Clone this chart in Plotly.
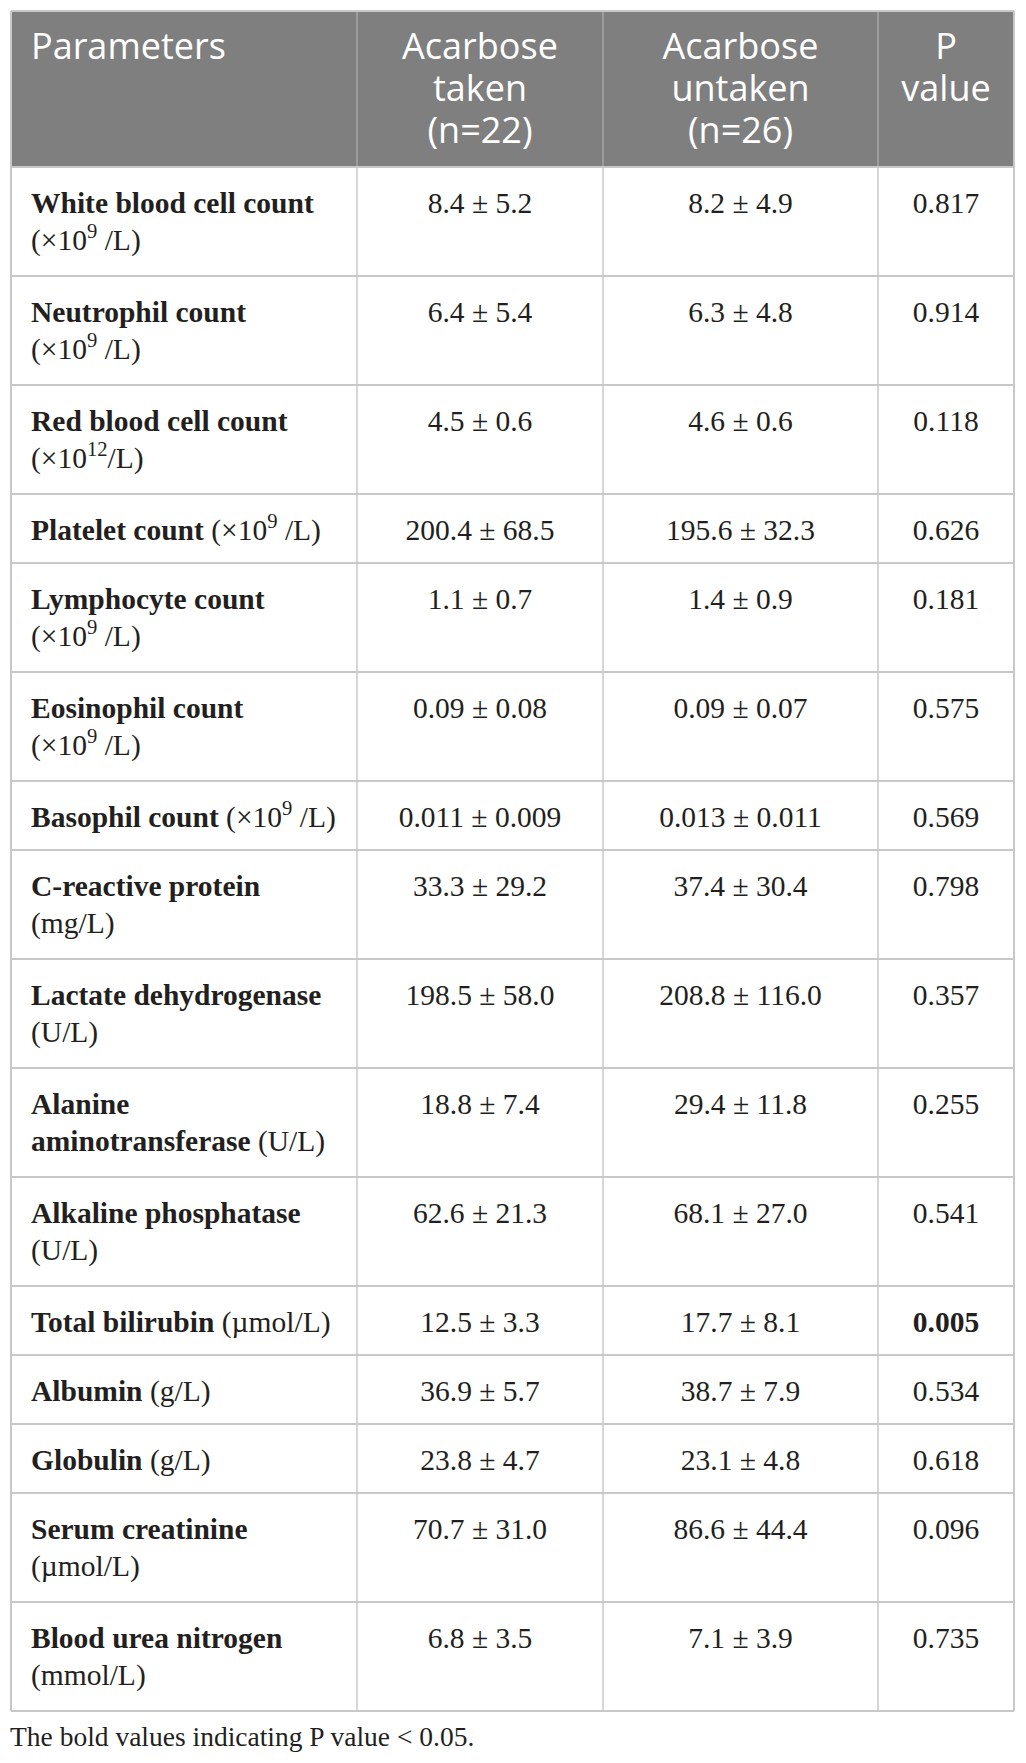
import plotly.graph_objects as go

# table content, one entry per row
parameters = [
    "<b>White blood cell count</b><br>(×10<sup>9</sup> /L)",
    "<b>Neutrophil count</b><br>(×10<sup>9</sup> /L)",
    "<b>Red blood cell count</b><br>(×10<sup>12</sup>/L)",
    "<b>Platelet count</b> (×10<sup>9</sup> /L)",
    "<b>Lymphocyte count</b><br>(×10<sup>9</sup> /L)",
    "<b>Eosinophil count</b><br>(×10<sup>9</sup> /L)",
    "<b>Basophil count</b> (×10<sup>9</sup> /L)",
    "<b>C-reactive protein</b><br>(mg/L)",
    "<b>Lactate dehydrogenase</b><br>(U/L)",
    "<b>Alanine</b><br><b>aminotransferase</b> (U/L)",
    "<b>Alkaline phosphatase</b><br>(U/L)",
    "<b>Total bilirubin</b> (µmol/L)",
    "<b>Albumin</b> (g/L)",
    "<b>Globulin</b> (g/L)",
    "<b>Serum creatinine</b><br>(µmol/L)",
    "<b>Blood urea nitrogen</b><br>(mmol/L)",
]
acarbose_taken = [
    "8.4 ± 5.2", "6.4 ± 5.4", "4.5 ± 0.6", "200.4 ± 68.5", "1.1 ± 0.7",
    "0.09 ± 0.08", "0.011 ± 0.009", "33.3 ± 29.2", "198.5 ± 58.0",
    "18.8 ± 7.4", "62.6 ± 21.3", "12.5 ± 3.3", "36.9 ± 5.7", "23.8 ± 4.7",
    "70.7 ± 31.0", "6.8 ± 3.5",
]
acarbose_untaken = [
    "8.2 ± 4.9", "6.3 ± 4.8", "4.6 ± 0.6", "195.6 ± 32.3", "1.4 ± 0.9",
    "0.09 ± 0.07", "0.013 ± 0.011", "37.4 ± 30.4", "208.8 ± 116.0",
    "29.4 ± 11.8", "68.1 ± 27.0", "17.7 ± 8.1", "38.7 ± 7.9", "23.1 ± 4.8",
    "86.6 ± 44.4", "7.1 ± 3.9",
]
p_values = [
    "0.817", "0.914", "0.118", "0.626", "0.181", "0.575", "0.569", "0.798",
    "0.357", "0.255", "0.541", "0.005", "0.534", "0.618", "0.096", "0.735",
]
headers = ["Parameters", "Acarbose<br>taken<br>(n=22)", "Acarbose<br>untaken<br>(n=26)", "P<br>value"]
footnote = "The bold values indicating P value < 0.05."

# page geometry (pixels)
W, H = 1026, 1763
col_edges = [11, 357, 603, 878, 1014]
table_top, header_h = 11, 156
row_h1, line_gap = 69, 40
first_base, line_step = 49, 37
body_fs, head_fs = 29.5, 36
head_bg, head_line, grid = "#7f7f7f", "#a6a6a6", "#c8c8c8"
ink = "#231f20"

p_cells = ["<b>%s</b>" % p if float(p) < 0.05 else p for p in p_values]

# row boundaries from the number of lines in each label
tops = []
y = table_top + header_h
for lab in parameters:
    tops.append(y)
    y += row_h1 + line_gap * lab.count("<br>")
table_bottom = y


def mid(base, fs):
    return base - 0.35 * fs


fig = go.Figure()

# header text
hx, hy, ht, hpos = [], [], [], []
for j, h in enumerate(headers):
    for k, line in enumerate(h.split("<br>")):
        if j == 0:
            hx.append(col_edges[0] + 20)
            hpos.append("middle right")
        else:
            hx.append((col_edges[j] + col_edges[j + 1]) / 2)
            hpos.append("middle center")
        hy.append(mid(table_top + 52 + k * 42, head_fs))
        ht.append(line)
fig.add_trace(go.Scatter(x=hx, y=hy, text=ht, mode="text", textposition=hpos,
                         textfont=dict(family="Open Sans", size=head_fs, color="white"),
                         hoverinfo="skip"))

# parameter column
px, py, pt = [], [], []
for top, lab in zip(tops, parameters):
    for k, line in enumerate(lab.split("<br>")):
        px.append(col_edges[0] + 20)
        py.append(mid(top + first_base + k * line_step, body_fs))
        pt.append(line)
fig.add_trace(go.Scatter(x=px, y=py, text=pt, mode="text", textposition="middle right",
                         textfont=dict(family="Liberation Serif", size=body_fs, color=ink),
                         hoverinfo="skip"))

# value columns
vx, vy, vt = [], [], []
for j, col in enumerate([acarbose_taken, acarbose_untaken, p_cells], start=1):
    cx = (col_edges[j] + col_edges[j + 1]) / 2
    for top, v in zip(tops, col):
        vx.append(cx)
        vy.append(mid(top + first_base, body_fs))
        vt.append(v)
fig.add_trace(go.Scatter(x=vx, y=vy, text=vt, mode="text", textposition="middle center",
                         textfont=dict(family="Liberation Serif", size=body_fs, color=ink),
                         hoverinfo="skip"))

# footnote
fig.add_trace(go.Scatter(x=[col_edges[0] - 1], y=[mid(table_bottom + 38, 27.5)], text=[footnote],
                         mode="text", textposition="middle right",
                         textfont=dict(family="Liberation Serif", size=27.5, color=ink),
                         hoverinfo="skip"))

# header band and grid
shapes = [dict(type="rect", x0=col_edges[0], x1=col_edges[-1], y0=table_top,
               y1=table_top + header_h, fillcolor=head_bg, line=dict(width=0), layer="below")]
for xe in col_edges[1:-1]:
    shapes.append(dict(type="line", x0=xe, x1=xe, y0=table_top, y1=table_top + header_h,
                       line=dict(color=head_line, width=1.5)))
    shapes.append(dict(type="line", x0=xe, x1=xe, y0=table_top + header_h, y1=table_bottom,
                       line=dict(color=grid, width=1.5)))
for ye in tops[1:] + [table_top + header_h, table_bottom]:
    shapes.append(dict(type="line", x0=col_edges[0], x1=col_edges[-1], y0=ye, y1=ye,
                       line=dict(color=grid, width=2)))
for xe in [col_edges[0], col_edges[-1]]:
    shapes.append(dict(type="line", x0=xe, x1=xe, y0=table_top, y1=table_bottom,
                       line=dict(color=grid, width=2)))
shapes.append(dict(type="line", x0=col_edges[0], x1=col_edges[-1], y0=table_top, y1=table_top,
                   line=dict(color=grid, width=2)))

fig.update_layout(
    width=W, height=H, margin=dict(l=0, r=0, t=0, b=0),
    paper_bgcolor="white", plot_bgcolor="white", showlegend=False, hovermode=False,
    xaxis=dict(range=[0, W], visible=False, fixedrange=True),
    yaxis=dict(range=[H, 0], visible=False, fixedrange=True),
    shapes=shapes,
)

fig.write_html("out.html", config={"displayModeBar": False},
               post_script="document.body.style.margin='0';")
